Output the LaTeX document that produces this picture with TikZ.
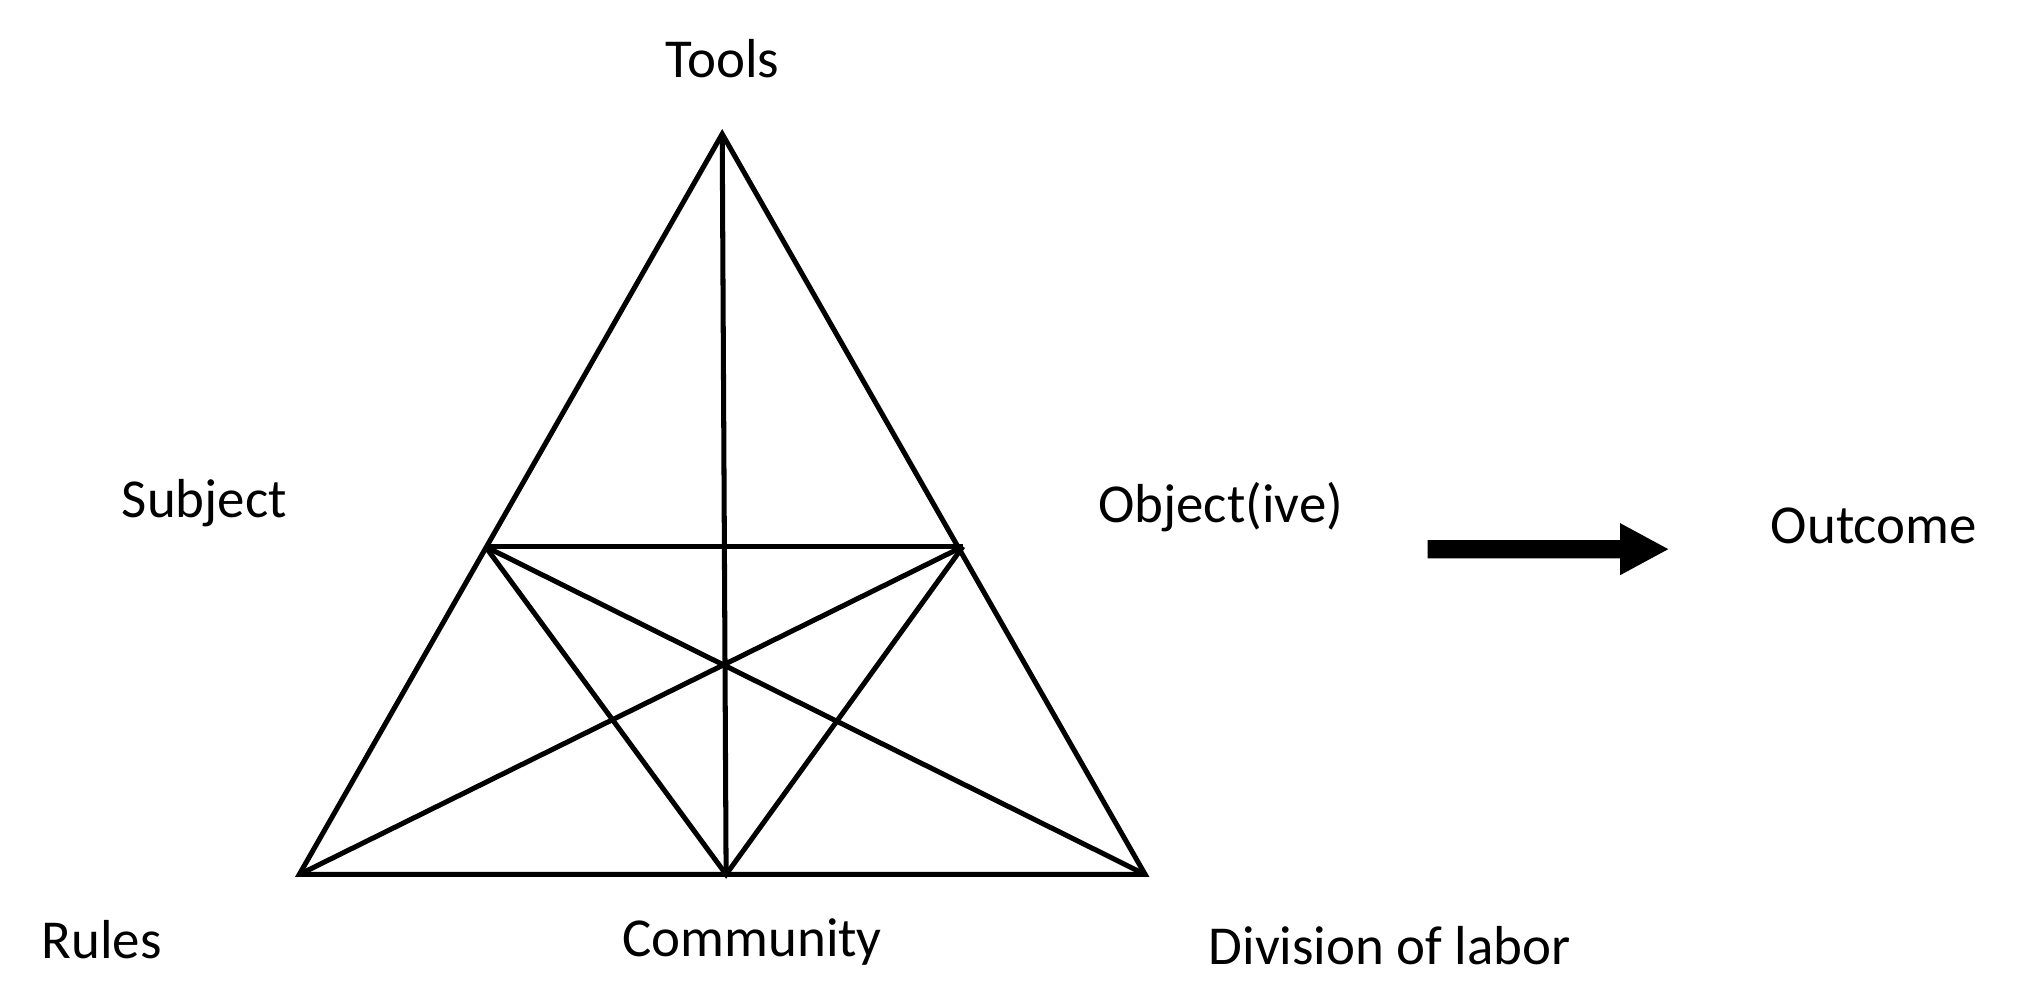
\documentclass[tikz,border=0pt]{standalone}
\usepackage{fontspec}
\setmainfont{Carlito}
\begin{document}
\begin{tikzpicture}[x=0.01cm,y=-0.01cm,line width=1.1pt,
  lbl/.style={font=\fontsize{12}{14}\selectfont,inner sep=0pt},
  ln/.style={draw,line join=miter}]
\useasboundingbox (0,0) rectangle (1560,766);
\coordinate (T) at (555,103);
\coordinate (L) at (230,672);
\coordinate (R) at (880,672);
\coordinate (C) at (558,672);
\coordinate (S) at (373,420);
\coordinate (O) at (740,420);
\draw[ln] (T) -- (L) -- (R) -- cycle;
\draw[ln] (T) -- (C);
\draw[ln] (S) -- (O);
\draw[ln] (S) -- (C) -- (O);
\draw[ln] (S) -- (R);
\draw[ln] (O) -- (L);
\node[lbl] (tools) at (555,45) {Tools};
\node[lbl] (subj) at (157,387) {Subject};
\node[lbl] (obj) at (938,390) {Object(ive)};
\node[lbl] (out) at (1440,404) {Outcome};
\node[lbl] (rules) at (78,722) {Rules};
\node[lbl] (comm) at (578,724) {Community};
\node[lbl] (div) at (1068,727) {Division of labor};
\coordinate (a1) at (1097,422);
\coordinate (a2) at (1282,422);
\fill (1097,415) -- (1245,415) -- (1245,402) -- (1282,422) -- (1245,442) -- (1245,429) -- (1097,429) -- cycle;
\end{tikzpicture}
\end{document}
